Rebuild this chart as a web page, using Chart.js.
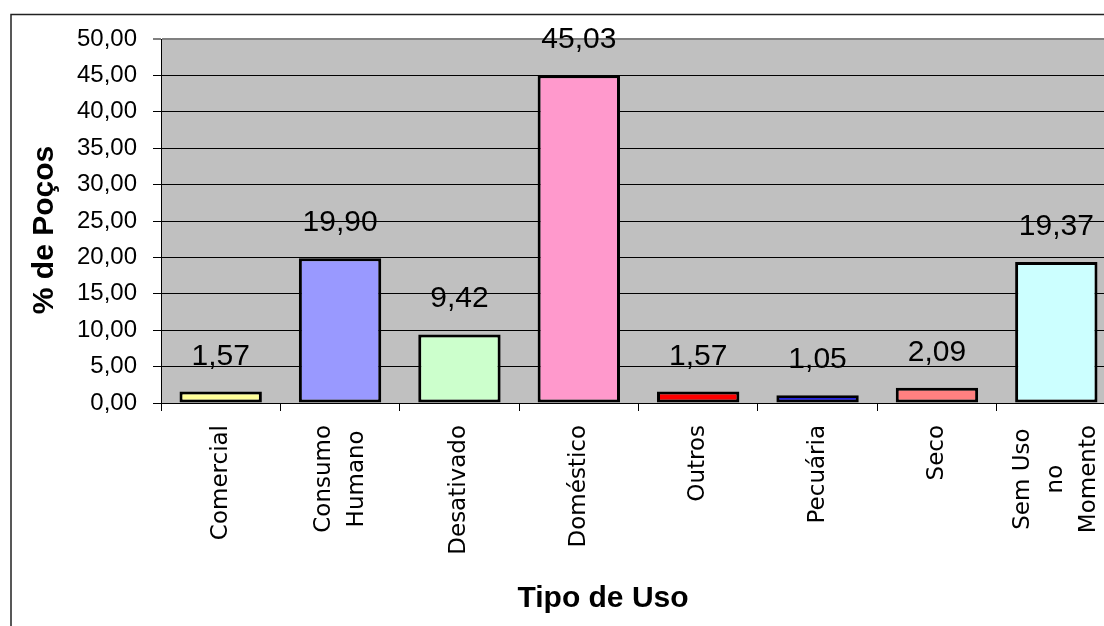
<!DOCTYPE html>
<html>
<head>
<meta charset="utf-8">
<script src="https://cdn.jsdelivr.net/npm/chart.js@4"></script>
<style>
  body { margin: 0; background: #fff; overflow: hidden; }
  #wrap { width: 1104px; height: 626px; overflow: hidden; position: relative; }
  canvas { position: absolute; left: 0; top: 0; }
</style>
</head>
<body>
<div id="wrap"><canvas id="usoChart" width="1200" height="626"></canvas></div>
<script>
// Tipo de uso dos poços (%)
const categories = [
    ['Comercial'],
    ['Consumo', 'Humano'],
    ['Desativado'],
    ['Doméstico'],
    ['Outros'],
    ['Pecuária'],
    ['Seco'],
    ['Sem Uso', 'no', 'Momento']
];
const percentValues = [1.57, 19.90, 9.42, 45.03, 1.57, 1.05, 2.09, 19.37];
const yTickValues = [0, 5, 10, 15, 20, 25, 30, 35, 40, 45, 50];
const yTickLabels = ['0,00', '5,00', '10,00', '15,00', '20,00', '25,00', '30,00', '35,00', '40,00', '45,00', '50,00'];

const fmt = v => v.toFixed(2).replace('.', ',');

// background, outer frame, value labels, category labels and axis titles
const excelLook = {
    id: 'excelLook',
    beforeDraw(chart) {
        const { ctx, chartArea: a } = chart;
        ctx.save();
        ctx.fillStyle = '#fff';
        ctx.fillRect(0, 0, chart.width, chart.height);
        ctx.strokeStyle = '#222';
        ctx.lineWidth = 1.5;
        ctx.strokeRect(11, 14.5, chart.width, chart.height);
        ctx.fillStyle = '#C0C0C0';
        ctx.fillRect(a.left, a.top, a.right - a.left, a.bottom - a.top);
        ctx.restore();
    },
    afterDatasetsDraw(chart) {
        const { ctx } = chart;
        const meta = chart.getDatasetMeta(0);
        ctx.save();
        ctx.fillStyle = '#000';
        ctx.font = '30px "Liberation Sans", Arial, sans-serif';
        ctx.textAlign = 'center';
        ctx.textBaseline = 'alphabetic';
        meta.data.forEach((bar, i) => {
            ctx.fillText(fmt(percentValues[i]), bar.x, bar.y - 27);
        });
        ctx.restore();
    },
    afterDraw(chart) {
        const { ctx } = chart;
        const xs = chart.scales.x;
        ctx.save();
        ctx.fillStyle = '#000';

        // rotated category names, lines centred on each other
        ctx.font = '23px "DejaVu Sans", sans-serif';
        ctx.textAlign = 'center';
        ctx.textBaseline = 'middle';
        categories.forEach((lines, i) => {
            const x = xs.getPixelForTick(i);
            const maxW = Math.max(...lines.map(l => ctx.measureText(l).width));
            const cy = xs.top + 22 + maxW / 2;
            ctx.save();
            ctx.translate(x, cy);
            ctx.rotate(-Math.PI / 2);
            lines.forEach((l, j) => {
                ctx.fillText(l, 0, (j - (lines.length - 1) / 2) * 33);
            });
            ctx.restore();
        });

        // axis titles
        ctx.font = 'bold 30px "Liberation Sans", Arial, sans-serif';
        ctx.textBaseline = 'alphabetic';
        ctx.fillText('Tipo de Uso', 603, 607);

        ctx.save();
        ctx.translate(53, 230);
        ctx.rotate(-Math.PI / 2);
        ctx.fillText('% de Poços', 0, 0);
        ctx.restore();

        ctx.restore();
    }
};

new Chart(document.getElementById('usoChart'), {
    type: 'bar',
    data: {
        labels: categories,
        datasets: [{
            data: percentValues,
            backgroundColor: ['#FFFF99', '#9999FF', '#CCFFCC', '#FF99CC', '#FF0000', '#0000FF', '#FF8080', '#CCFFFF'],
            borderColor: '#000',
            borderWidth: 3,
            borderSkipped: false,
            barPercentage: 0.69,
            categoryPercentage: 1
        }]
    },
    options: {
        responsive: false,
        animation: false,
        devicePixelRatio: 1,
        layout: { padding: { top: 39, right: 84, left: 0, bottom: 0 } },
        plugins: {
            legend: { display: false },
            tooltip: { enabled: false }
        },
        scales: {
            x: {
                afterFit: s => { s.height = 223; },
                ticks: { display: false },
                grid: {
                    offset: true,
                    drawOnChartArea: false,
                    drawTicks: true,
                    tickLength: 8,
                    color: '#000'
                },
                border: { color: '#000', width: 1 }
            },
            y: {
                min: 0,
                max: 50,
                afterFit: s => { s.width = 161; },
                afterBuildTicks: s => { s.ticks = yTickValues.map(v => ({ value: v })); },
                ticks: {
                    padding: 16,
                    color: '#000',
                    font: { family: '"Liberation Sans", Arial, sans-serif', size: 24 },
                    callback: v => yTickLabels[yTickValues.indexOf(v)]
                },
                grid: {
                    color: c => (c.tick && c.tick.value === 50 ? '#808080' : '#000'),
                    lineWidth: c => (c.tick && c.tick.value === 50 ? 2 : 1),
                    tickColor: '#000',
                    tickWidth: 1,
                    tickLength: 8
                },
                border: { color: '#000', width: 1 }
            }
        }
    },
    plugins: [excelLook]
});
</script>
</body>
</html>
